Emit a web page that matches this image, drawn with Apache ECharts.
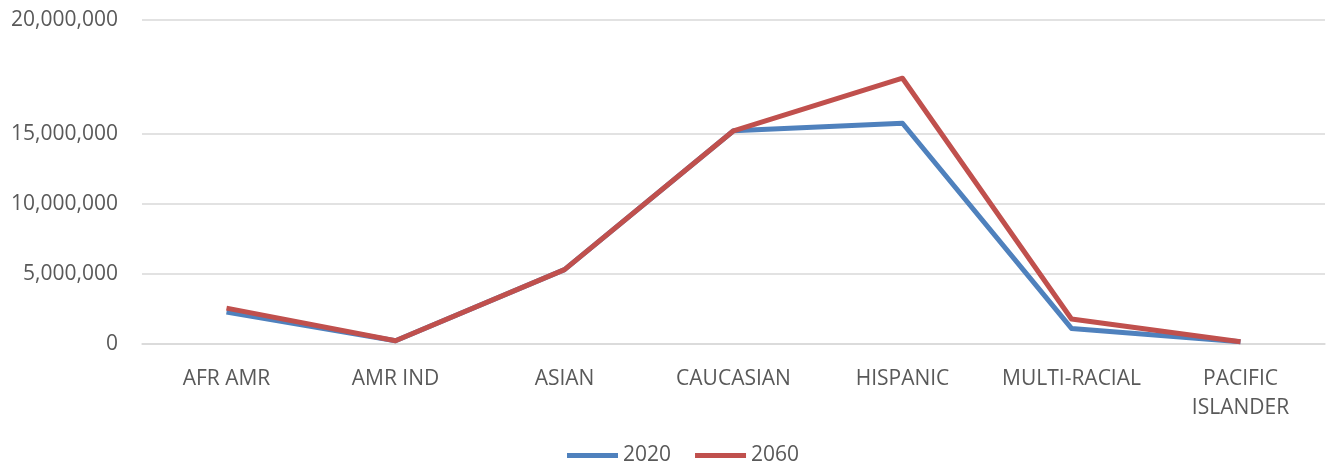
<!DOCTYPE html>
<html>
<head>
<meta charset="utf-8">
<title>Population 2020 / 2060</title>
<script src="https://cdn.jsdelivr.net/npm/echarts@6/dist/echarts.min.js"></script>
<style>
  html, body { margin: 0; padding: 0; background: #fff; }
  #main { width: 1327px; height: 469px; }
</style>
</head>
<body>
<div id="main"></div>
<script>
// categories along the x axis
var categories = ['AFR AMR', 'AMR IND', 'ASIAN', 'CAUCASIAN', 'HISPANIC', 'MULTI-RACIAL', 'PACIFIC\nISLANDER'];
// values
var data2020 = [2280000, 230000, 5300000, 15200000, 15740000, 1110000, 160000];
var data2060 = [2560000, 230000, 5300000, 15200000, 18950000, 1780000, 160000];
// gridlines / labels of the value axis (top line sits higher than an even step)
var yTickValues = [0, 5000000, 10000000, 15000000, 23100000];
var yTickLabels = ['0', '5,000,000', '10,000,000', '15,000,000', '20,000,000'];

var textColor = '#595959';
var fontName = '"Open Sans", sans-serif';

var option = {
    animation: false,
    backgroundColor: '#fff',
    grid: { left: 142, right: 2, top: 20, bottom: 125, containLabel: false },
    legend: {
        bottom: -2,
        left: 562,
        icon: 'rect',
        itemWidth: 51,
        itemHeight: 5,
        itemGap: 24,
        textStyle: { color: textColor, fontSize: 21, fontFamily: fontName },
        data: ['2020', '2060']
    },
    xAxis: {
        type: 'category',
        data: categories,
        boundaryGap: true,
        axisLine: { show: true, lineStyle: { color: '#d9d9d9', width: 1.5 } },
        axisTick: { show: false },
        axisLabel: {
            color: textColor, fontSize: 21, fontFamily: fontName,
            margin: 21, lineHeight: 29, interval: 0
        }
    },
    yAxis: {
        type: 'value',
        min: 0,
        max: yTickValues[yTickValues.length - 1],
        axisLine: { show: false },
        axisTick: { show: false, customValues: yTickValues },
        splitLine: { show: true, lineStyle: { color: '#d9d9d9', width: 1.5 } },
        axisLabel: {
            customValues: yTickValues,
            color: textColor, fontSize: 21, fontFamily: fontName, margin: 24,
            formatter: function (v) {
                var i = yTickValues.indexOf(v);
                return i >= 0 ? yTickLabels[i] : '';
            }
        }
    },
    series: [
        {
            name: '2020', type: 'line', data: data2020,
            symbol: 'none', color: '#4f81bd',
            lineStyle: { width: 5, color: '#4f81bd', join: 'round' }
        },
        {
            name: '2060', type: 'line', data: data2060,
            symbol: 'none', color: '#c0504d',
            lineStyle: { width: 5, color: '#c0504d', join: 'round' }
        }
    ]
};

var myChart = echarts.init(document.getElementById('main'));
myChart.setOption(option);
</script>
</body>
</html>
